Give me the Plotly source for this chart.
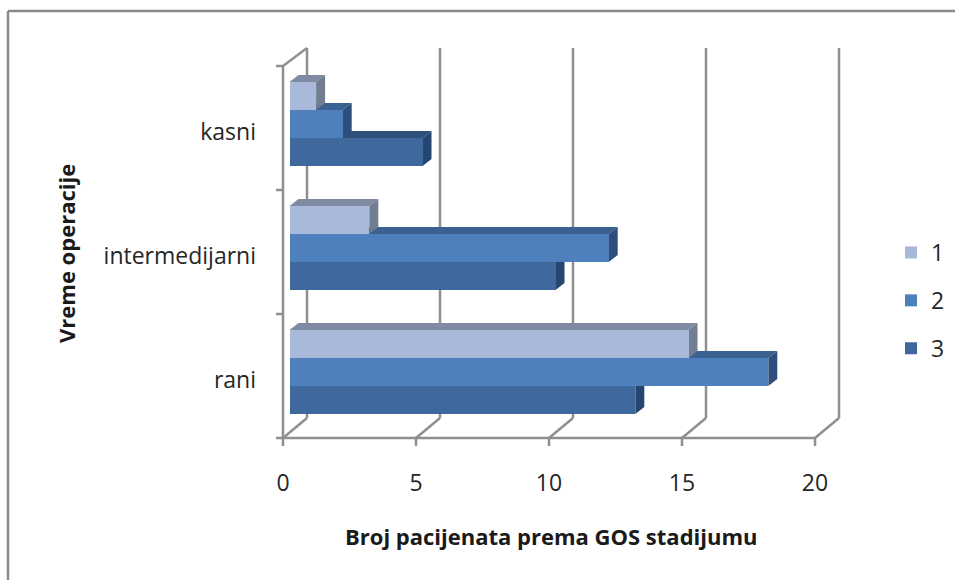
import plotly.graph_objects as go

categories = ["rani", "intermedijarni", "kasni"]
x_ticks = [0, 5, 10, 15, 20]
series_names = ["1", "2", "3"]
values_1 = [15, 3, 1]
values_2 = [18, 12, 2]
values_3 = [13, 10, 5]
front_colors = ["#A9B9D9", "#4D80BD", "#3F689C"]
top_colors = ["#7F8BA3", "#3A6190", "#2E5078"]
side_colors = ["#717D91", "#2E4F7E", "#254670"]
grid = "#8F8F8F"

W, H = 955, 580
PX = 26.6          # pixels per x unit
PY = 124.0         # pixels per category
X0, Y0 = 283, 438  # pixel of x=0, y=-0.5
L, R, T, B = 272, 845, 40, 450  # plot box

def ux(px):
    return px / PX

def uy(px):
    return px / PY

x_range = [(L - X0) / PX, (R - X0) / PX]
y_range = [-0.5 + (Y0 - B) / PY, -0.5 + (Y0 - T) / PY]

WALL_DX, WALL_DY = ux(24), uy(20)
BASE = ux(6.5)
BAR_H = uy(28)
BAR_DY = uy(4)
LABEL_DY = uy(4)
FACE_DX, FACE_DY = ux(9), uy(7)
TOP_Y = 2.5
BOT_Y = -0.5
TICK_X, TICK_Y = ux(7), uy(8)

fig = go.Figure()
shapes = []

def line(x0, y0, x1, y1):
    shapes.append(dict(type="line", xref="x", yref="y", x0=x0, y0=y0, x1=x1, y1=y1,
                       line=dict(color=grid, width=2.5), layer="below"))

# walls, floor and axis lines
for t in x_ticks:
    line(t, BOT_Y, t + WALL_DX, BOT_Y + WALL_DY)
    line(t + WALL_DX, BOT_Y + WALL_DY, t + WALL_DX, TOP_Y + uy(18))
    line(t, BOT_Y, t, BOT_Y - TICK_Y)
line(0, TOP_Y, WALL_DX, TOP_Y + uy(18))
line(0, BOT_Y, x_ticks[-1], BOT_Y)
line(0, BOT_Y, 0, TOP_Y)
for k in [BOT_Y, BOT_Y + 1, BOT_Y + 2, TOP_Y]:
    line(0, k, -TICK_X, k)

series = [values_1, values_2, values_3]
slots = [1, 0, -1]

# depth faces (drawn under the bars)
for s in [2, 1, 0]:
    for i, v in enumerate(series[s]):
        y_mid = i + BAR_DY + slots[s] * BAR_H
        y_t = y_mid + BAR_H / 2
        y_b = y_mid - BAR_H / 2
        xe = BASE + v
        shapes.append(dict(type="path", xref="x", yref="y", layer="below",
                           path=f"M{BASE},{y_t}L{BASE + FACE_DX},{y_t + FACE_DY}L{xe + FACE_DX},{y_t + FACE_DY}L{xe},{y_t}Z",
                           fillcolor=top_colors[s], line=dict(width=0)))
        shapes.append(dict(type="path", xref="x", yref="y", layer="below",
                           path=f"M{xe},{y_t}L{xe + FACE_DX},{y_t + FACE_DY}L{xe + FACE_DX},{y_b + FACE_DY}L{xe},{y_b}Z",
                           fillcolor=side_colors[s], line=dict(width=0)))

# outer frame
for x0, y0, x1, y1 in [(8, 11, 955, 11), (8, 11, 8, 580)]:
    shapes.append(dict(type="line", xref="paper", yref="paper",
                       x0=x0 / W, x1=x1 / W, y0=1 - y0 / H, y1=1 - y1 / H,
                       line=dict(color="#8A8A8A", width=2.5)))

for s, name in enumerate(series_names):
    fig.add_trace(go.Bar(
        name=name, orientation="h", y=list(range(len(categories))), x=series[s],
        base=BASE, width=BAR_H, offset=BAR_DY + slots[s] * BAR_H - BAR_H / 2,
        marker=dict(color=front_colors[s], line=dict(width=0)),
        legendgroup=name,
    ))

font = "Open Sans, sans-serif"
fig.update_layout(
    width=W, height=H, autosize=False,
    margin=dict(l=0, r=0, t=0, b=0),
    paper_bgcolor="white", plot_bgcolor="white",
    barmode="overlay", bargap=0,
    font=dict(family=font, size=23, color="#262626"),
    shapes=shapes,
    legend=dict(x=891 / W, y=1 - 231 / H, xanchor="left", yanchor="top",
                tracegroupgap=15, font=dict(size=23), bgcolor="rgba(0,0,0,0)"),
    xaxis=dict(domain=[L / W, R / W], range=x_range, showgrid=False, zeroline=False,
               showline=False, ticks="", tickvals=x_ticks, ticklabelstandoff=17,
               tickfont=dict(size=23)),
    yaxis=dict(domain=[(H - B) / H, (H - T) / H], range=y_range, showgrid=False,
               zeroline=False, showline=False, ticks="",
               tickvals=[i - LABEL_DY for i in range(len(categories))], ticktext=categories,
               ticklabelstandoff=15, tickfont=dict(size=23)),
    annotations=[
        dict(text="<b>Broj pacijenata prema GOS stadijumu</b>", xref="paper", yref="paper",
             x=551 / W, y=1 - 536 / H, showarrow=False,
             xanchor="center", yanchor="middle", font=dict(size=22, color="#1a1a1a")),
        dict(text="<b>Vreme operacije</b>", xref="paper", yref="paper",
             x=66 / W, y=1 - 254 / H, showarrow=False, textangle=-90,
             xanchor="center", yanchor="middle", font=dict(size=22, color="#1a1a1a")),
    ],
)

fig.write_html("out.html", config=dict(displayModeBar=False),
               post_script="document.body.style.margin='0';document.body.style.overflow='hidden';")
